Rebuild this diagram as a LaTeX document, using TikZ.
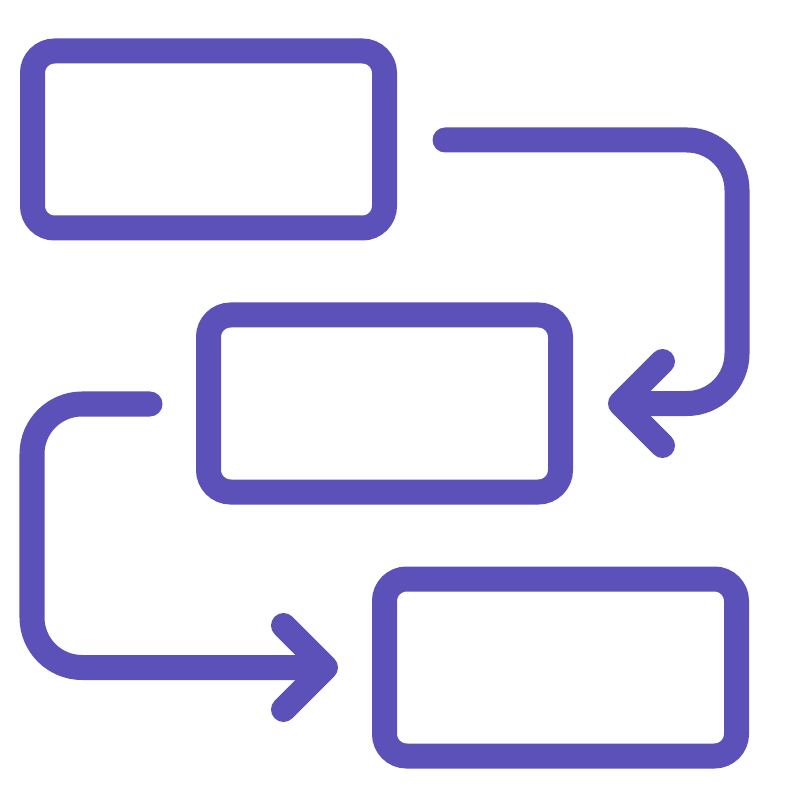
\documentclass[tikz,border=0pt]{standalone}
\usepackage{tikz}
\definecolor{iconpurple}{RGB}{91, 81, 184}
\usetikzlibrary{
  arrows.meta,
  calc,
  positioning,
}
\tikzset{
  >={Straight Barb[length=4.2mm, width=8.4mm, line cap=round, line join=round]},
}

\begin{document}
\begin{tikzpicture}[box/.style={draw=iconpurple, line width=2.5mm, rounded corners=2.2mm,
                                    minimum width=3.52cm, minimum height=1.77cm,
                                    inner sep=0pt},
                    flow/.style={->, draw=iconpurple, line width=2.5mm, line cap=round,
                                 rounded corners=5mm}]
      \useasboundingbox (0,0) rectangle (8,-8);
      \node [box] (first) at (2.085, -1.395) {};
      \node [box] (second) at (3.845, -4.035) {};
      \node [box] (third) at (5.605, -6.675) {};
      % loop back into the middle box
      \coordinate (topstart) at (4.45, -1.40);
      \draw [flow] (topstart) -| ([xshift=16.4mm]second.east)
                   -- ([xshift=3.5mm]second.east);
      % down into the last box
      \coordinate (leftstart) at (1.50, -4.04);
      \draw [flow] (leftstart) -| ([xshift=-34mm]third.west)
                   -- ([xshift=-3.4mm]third.west);
    \end{tikzpicture}
\end{document}
